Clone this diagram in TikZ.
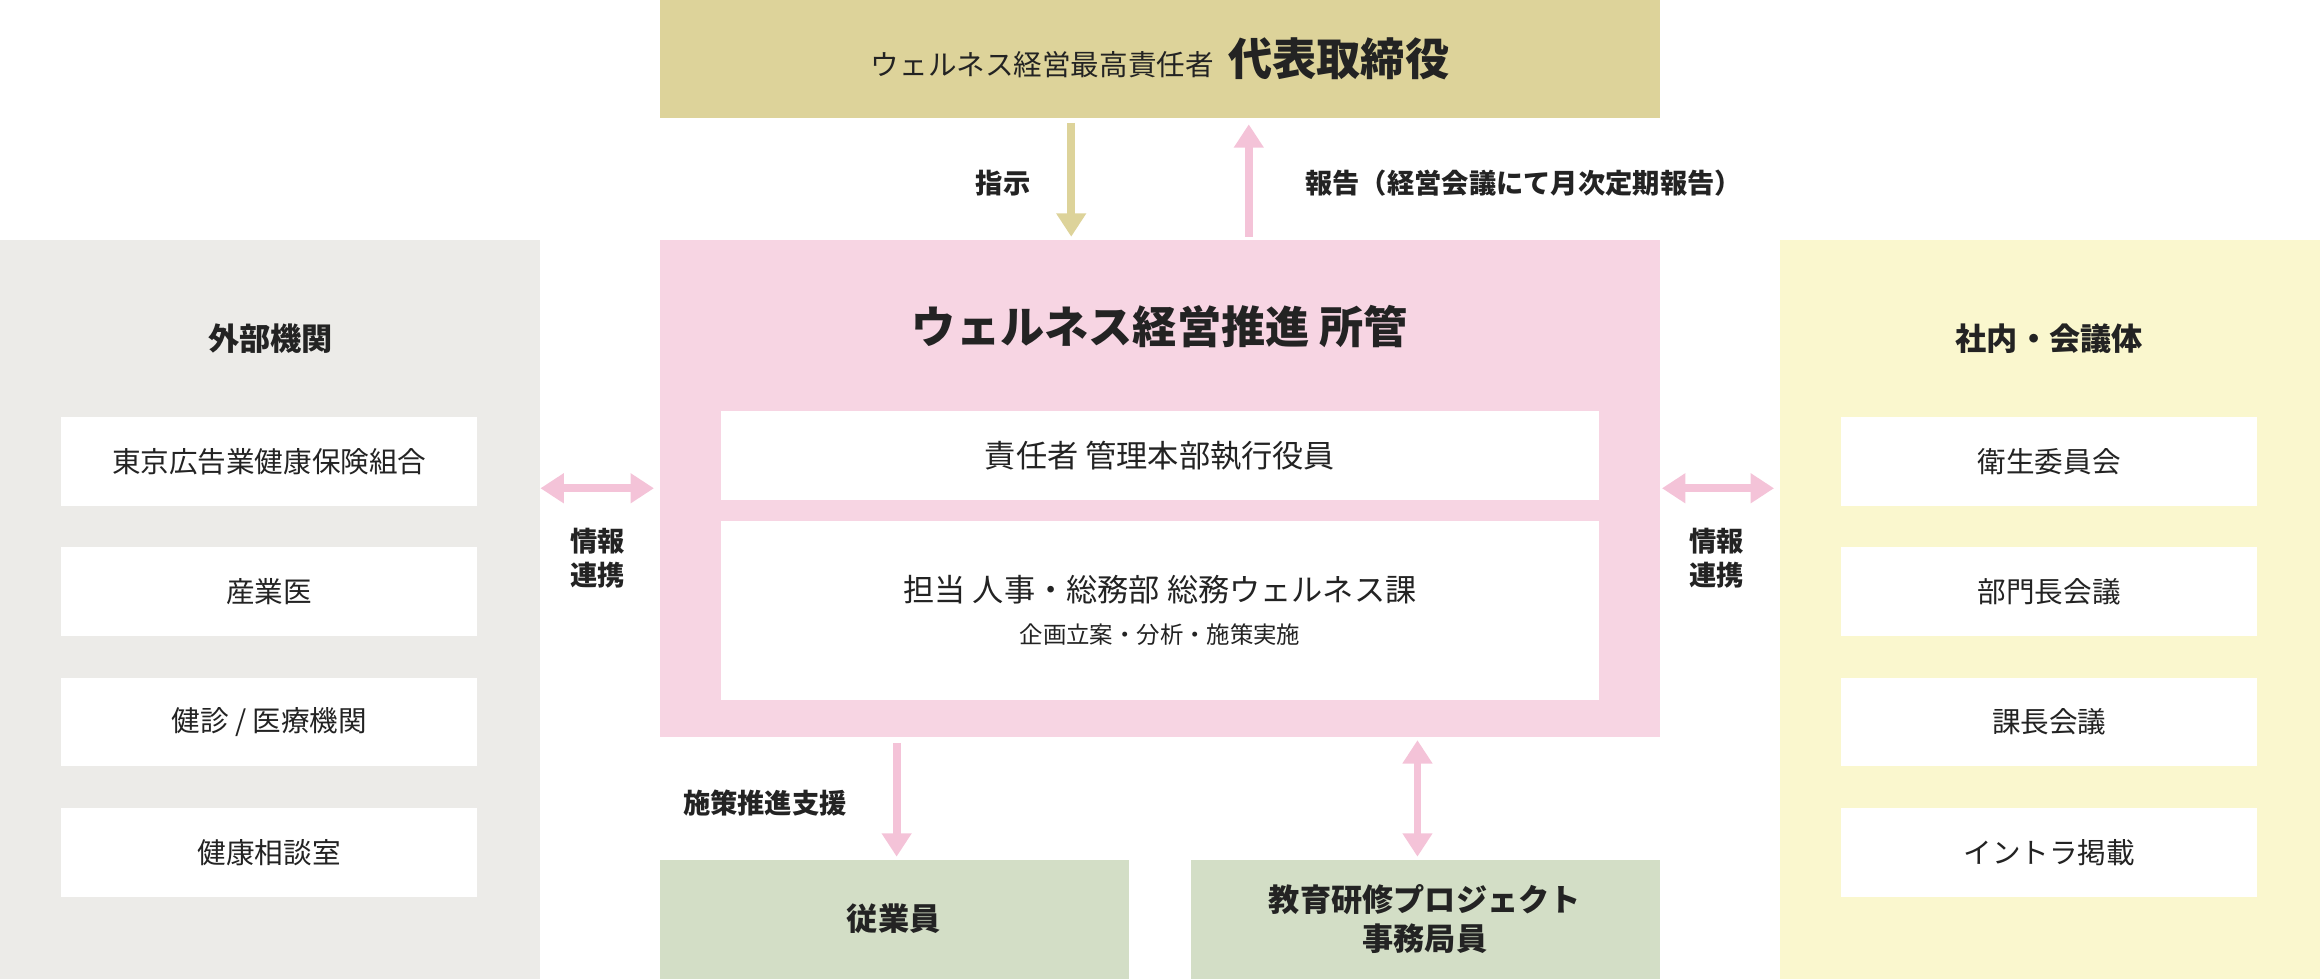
\documentclass[tikz,border=0pt]{standalone}
\usepackage{fontspec}
\setmainfont{Noto Sans CJK JP}
\usetikzlibrary{arrows.meta}
\definecolor{topc}{RGB}{221,211,154}
\definecolor{grayc}{RGB}{236,235,232}
\definecolor{pinkc}{RGB}{247,213,227}
\definecolor{yelc}{RGB}{250,247,206}
\definecolor{grnc}{RGB}{211,222,198}
\definecolor{arrp}{RGB}{244,195,216}
\definecolor{txt}{RGB}{35,35,35}
\tikzset{
panel/.style={inner sep=0, outer sep=0, anchor=north west},
item/.style={fill=white, minimum width=281*0.02cm, minimum height=60*0.02cm, inner sep=0, font=\fontsize{11}{13}\selectfont, text=txt},
lbl/.style={font=\fontsize{10.5}{13}\selectfont\bfseries, text=txt, align=center},
arr/.style={line width=3pt, -{Triangle[length=9pt, width=11pt]}},
darr/.style={line width=3pt, {Triangle[length=9pt, width=11pt]}-{Triangle[length=9pt, width=11pt]}, shorten <=-1pt}}
\begin{document}
\begin{tikzpicture}[x=0.02cm, y=-0.02cm]
\useasboundingbox (0,0) rectangle (1568,662);
% panels
\fill [topc] (446,0) rectangle (1122,80);
\fill [grayc] (0,162) rectangle (365,662);
\fill [pinkc] (446,162) rectangle (1122,498);
\fill [yelc] (1203,162) rectangle (1568,662);
\fill [grnc] (446,581) rectangle (763,662);
\fill [grnc] (805,581) rectangle (1122,662);
\node (top) [text=txt] at (784,40) {\fontsize{11}{13}\selectfont ウェルネス経営最高責任者\hspace{0.5em}\fontsize{17}{20}\selectfont\bfseries 代表取締役};
\node (center) [text=txt, font=\fontsize{17}{20}\selectfont\bfseries] at (784,221) {ウェルネス経営推進 所管};
\node (resp) [fill=white, minimum width=594*0.02cm, minimum height=60*0.02cm, inner sep=0, text=txt, font=\fontsize{12}{14}\selectfont] at (784,308) {責任者 管理本部執行役員};
\node (tant) [fill=white, minimum width=594*0.02cm, minimum height=121*0.02cm, inner sep=0, text=txt, align=center] at (784,412.5) {{\fontsize{12}{14}\selectfont 担当 人事・総務部 総務ウェルネス課}\\[4pt]{\fontsize{9}{11}\selectfont 企画立案・分析・施策実施}};
\node (ext) [lbl, font=\fontsize{12}{14}\selectfont\bfseries] at (183,229) {外部機関};
\node (inn) [lbl, font=\fontsize{12}{14}\selectfont\bfseries] at (1385,229) {社内・会議体};
\foreach \t [count=\i] in {東京広告業健康保険組合, 産業医, 健診 / 医療機関, 健康相談室}
  \node (l-\i) [item] at (182,312+88*\i-88) {\t};
\foreach \t [count=\i] in {衛生委員会, 部門長会議, 課長会議, イントラ掲載}
  \node (r-\i) [item] at (1385,312+88*\i-88) {\t};
\node (emp) [lbl, font=\fontsize{12}{14}\selectfont\bfseries] at (604,621) {従業員};
\node (proj) [lbl, font=\fontsize{12}{15}\selectfont\bfseries] at (963,621) {教育研修プロジェクト\\事務局員};
% connectors
\coordinate (a1) at (724,83); \coordinate (a2) at (724,160);
\draw [arr, topc] (a1) -- (a2);
\coordinate (b1) at (844,160); \coordinate (b2) at (844,84);
\draw [arr, arrp] (b1) -- (b2);
\node (shiji) [lbl] at (678,124) {指示};
\node (hokoku) [lbl, anchor=west] at (876,124) {報告（経営会議にて月次定期報告）};
\coordinate (c1) at (367,330); \coordinate (c2) at (442,330);
\draw [darr, arrp] (c1) -- (c2);
\coordinate (d1) at (1125,330); \coordinate (d2) at (1199,330);
\draw [darr, arrp] (d1) -- (d2);
\node (jl) [lbl] at (404,377) {情報\\連携};
\node (jr) [lbl] at (1160,377) {情報\\連携};
\coordinate (e1) at (606,502); \coordinate (e2) at (606,579);
\draw [arr, arrp] (e1) -- (e2);
\node (shien) [lbl] at (517,543) {施策推進支援};
\coordinate (f1) at (958,502); \coordinate (f2) at (958,579);
\draw [darr, arrp] (f1) -- (f2);
\end{tikzpicture}
\end{document}
